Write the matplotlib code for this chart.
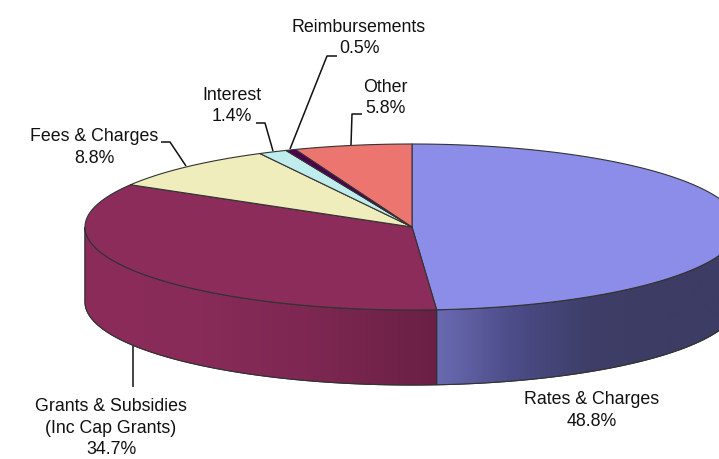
import numpy as np
import matplotlib
matplotlib.use('Agg')
import matplotlib.pyplot as plt
from matplotlib.patches import Polygon
from matplotlib.colors import LinearSegmentedColormap

# ---- data ----
categories = ['Rates & Charges', 'Grants & Subsidies\n(Inc Cap Grants)', 'Fees & Charges',
              'Interest', 'Reimbursements', 'Other']
values = [48.8, 34.7, 8.8, 1.4, 0.5, 5.8]
pct_labels = ['48.8%', '34.7%', '8.8%', '1.4%', '0.5%', '5.8%']

# ---- styles ----
top_colors = ['#8c8ce9', '#8b2c5a', '#eeedbb', '#bfecec', '#4d004d', '#ec766f']
side_grads = {0: ['#6a6ab2', '#4c4c88', '#3e3e68', '#3c3c64', '#3c3c64'],
              1: ['#8c2c5a', '#882b58', '#7c2751', '#6a2044']}

# ---- geometry (pixel layout) ----
W, H = 719, 460
cx, cy, rx, ry, depth = 412, 228, 327, 83, 75

fig = plt.figure(figsize=(W / 100, H / 100), dpi=100)
ax = fig.add_axes([0, 0, 1, 1])
ax.set_xlim(0, W)
ax.set_ylim(H, 0)
ax.axis('off')

def pt(theta_deg, dy=0.0):
    t = np.radians(theta_deg)
    return cx + rx * np.sin(t), cy - ry * np.cos(t) + dy

total = sum(values)
angles = np.concatenate([[0], np.cumsum(values) / total * 360])

edge = '#333333'
lw = 0.8

# side faces (front half: 90..270 deg)
for i in range(len(values)):
    a1, a2 = angles[i], angles[i + 1]
    s1, s2 = max(a1, 90), min(a2, 270)
    if s2 <= s1:
        continue
    th = np.linspace(s1, s2, 200)
    xs, ys = pt(th)
    xb, yb = pt(th[::-1], depth)
    poly = np.column_stack([np.concatenate([xs, xb]), np.concatenate([ys, yb])])
    p = Polygon(poly, closed=True, facecolor=top_colors[i], edgecolor=edge, lw=lw, zorder=1)
    ax.add_patch(p)
    cols = side_grads.get(i, [top_colors[i], top_colors[i]])
    cmap = LinearSegmentedColormap.from_list('g%d' % i, cols)
    x0, x1 = poly[:, 0].min(), poly[:, 0].max()
    y0, y1 = poly[:, 1].min(), poly[:, 1].max()
    grad = np.linspace(0, 1, 256).reshape(1, -1)
    im = ax.imshow(grad, cmap=cmap, extent=[x0, x1, y1, y0], aspect='auto', zorder=1.5,
                   interpolation='bilinear')
    im.set_clip_path(p)
    ax.add_patch(Polygon(poly, closed=True, facecolor='none', edgecolor=edge, lw=lw, zorder=2))

# top faces
for i in range(len(values)):
    a1, a2 = angles[i], angles[i + 1]
    th = np.linspace(a1, a2, max(int((a2 - a1) * 2), 4))
    xs, ys = pt(th)
    poly = np.column_stack([np.concatenate([[cx], xs]), np.concatenate([[cy], ys])])
    ax.add_patch(Polygon(poly, closed=True, facecolor=top_colors[i], edgecolor=edge,
                         lw=lw, zorder=3, joinstyle='round'))

# ---- labels ----
font = ['Liberation Sans', 'DejaVu Sans']
fs = 12.8
line_h = 21.5
label_pos = {0: (592, 400), 1: (111, 407), 2: (94, 137), 3: (232, 95), 4: (359, 27), 5: (385, 87)}
for i, (name, pct) in enumerate(zip(categories, pct_labels)):
    lines = name.split('\n') + [pct]
    x, y = label_pos[i]
    for k, ln in enumerate(lines):
        ax.text(x, y + k * line_h, ln, ha='center', va='center', fontsize=fs,
                family=font, color='#111111', zorder=5)

leaders = {
    1: [(133, 347), (133, 388)],
    2: [(161, 143), (170, 143), (186, 167)],
    3: [(256, 124), (265, 124), (273, 152)],
    4: [(337, 57), (327, 57), (290, 150)],
    5: [(362, 115), (352, 115), (351, 146)],
}
for i, pts in leaders.items():
    xs, ys = zip(*pts)
    ax.plot(xs, ys, color='#111111', lw=1.1, zorder=4, solid_capstyle='butt')

fig.savefig('out.png', dpi=100)
